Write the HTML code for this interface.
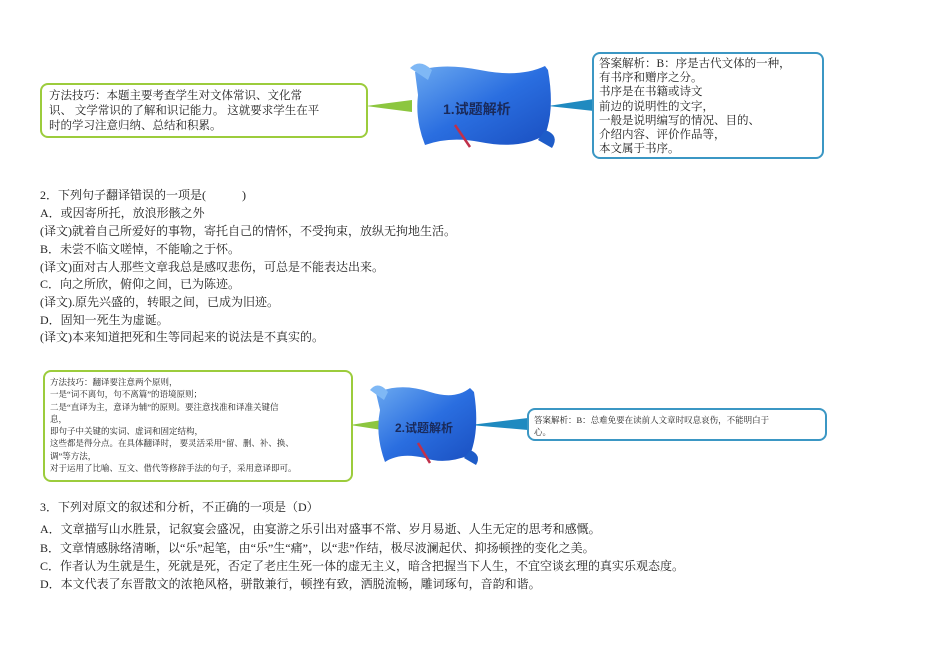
<!DOCTYPE html>
<html><head><meta charset="utf-8"><style>
body{margin:0;width:950px;height:672px;background:#fff;position:relative;overflow:hidden;font-family:"Liberation Serif","Noto Serif CJK SC",serif;color:#222}
.t{position:absolute;left:40px;font-size:12px;white-space:nowrap;line-height:14px}
.box{position:absolute;background:#fff;border-radius:8px;font-family:"Liberation Serif","Noto Serif CJK SC",serif;color:#222;box-sizing:border-box}
.g{border:2px solid #9ccc3c}
.b{border:2px solid #3b97c4}
</style></head><body>
<svg width="950" height="672" style="position:absolute;left:0;top:0">
<defs><linearGradient id="sg" x1="0" y1="0" x2="1" y2="1"><stop offset="0" stop-color="#6aa8f0"/><stop offset="0.5" stop-color="#2a6ee0"/><stop offset="1" stop-color="#1a4fc0"/></linearGradient></defs>
<polygon points="366,106 412,100 412,112" fill="#8cc63f"/>
<polygon points="548,106 594,99 594,111" fill="#1f8ac0"/>
<g>
<path d="M415,72 Q440,62 480,70 Q520,78 545,66 L548,70 Q555,110 545,135 Q520,150 480,142 Q450,136 425,145 Q415,120 418,95 Z" fill="url(#sg)"/>
<path d="M410,68 Q420,58 432,70 L428,80 Z" fill="#7fb8f5"/>
<path d="M545,130 Q560,135 552,148 L538,140 Z" fill="#1e5cc8"/>
<line x1="455" y1="125" x2="470" y2="147" stroke="#c0304a" stroke-width="2.5"/>
<text x="443" y="114" font-size="14" font-weight="bold" fill="#1a2a5a" font-family="Liberation Sans,Noto Sans CJK SC,sans-serif">1.试题解析</text>
</g>
<polygon points="350,425 388,419 388,431" fill="#8cc63f"/>
<polygon points="470,425 528,418 528,430" fill="#1f8ac0"/>
<g>
<path d="M376,393 Q400,382 430,392 Q455,400 470,388 L474,392 Q480,430 470,455 Q445,465 425,458 Q400,452 385,462 Q375,435 380,410 Z" fill="url(#sg)"/>
<path d="M370,390 Q378,380 388,392 L384,400 Z" fill="#7fb8f5"/>
<path d="M470,450 Q482,455 476,465 L464,458 Z" fill="#1e5cc8"/>
<line x1="418" y1="443" x2="430" y2="463" stroke="#c0304a" stroke-width="2.5"/>
<text x="395" y="432" font-size="12" font-weight="bold" fill="#1a2a5a" font-family="Liberation Sans,Noto Sans CJK SC,sans-serif">2.试题解析</text>
</g>
</svg>
<div class="box g" style="left:40px;top:83px;width:328px;height:55px;font-size:11.5px;line-height:15px;padding:4px 0 0 7px">方法技巧：本题主要考查学生对文体常识、文化常<br>识、 文学常识的了解和识记能力。 这就要求学生在平<br>时的学习注意归纳、总结和积累。</div>
<div class="box b" style="left:592px;top:52px;width:232px;height:107px;font-size:11.5px;line-height:14.2px;padding:3px 0 0 5px">答案解析：B：序是古代文体的一种，<br>有书序和赠序之分。<br>书序是在书籍或诗文<br>前边的说明性的文字，<br>一般是说明编写的情况、目的、<br>介绍内容、评价作品等，<br>本文属于书序。</div>
<div class="t" style="top:188px">2．下列句子翻译错误的一项是(　　　)</div>
<div class="t" style="top:206px">A．或因寄所托，放浪形骸之外</div>
<div class="t" style="top:224px">(译文)就着自己所爱好的事物，寄托自己的情怀，不受拘束，放纵无拘地生活。</div>
<div class="t" style="top:242px">B．未尝不临文嗟悼，不能喻之于怀。</div>
<div class="t" style="top:260px">(译文)面对古人那些文章我总是感叹悲伤，可总是不能表达出来。</div>
<div class="t" style="top:277px">C．向之所欣，俯仰之间，已为陈迹。</div>
<div class="t" style="top:295px">(译文).原先兴盛的，转眼之间，已成为旧迹。</div>
<div class="t" style="top:313px">D．固知一死生为虚诞。</div>
<div class="t" style="top:330px">(译文)本来知道把死和生等同起来的说法是不真实的。</div>
<div class="box g" style="left:43px;top:370px;width:310px;height:112px;font-size:8.5px;line-height:12.3px;padding:4px 0 0 5px">方法技巧：翻译要注意两个原则，<br>一是“词不离句，句不离篇”的语境原则；<br>二是“直译为主，意译为辅”的原则。要注意找准和译准关键信<br>息，<br>即句子中关键的实词、虚词和固定结构，<br>这些都是得分点。在具体翻译时， 要灵活采用“留、删、补、换、<br>调”等方法，<br>对于运用了比喻、互文、借代等修辞手法的句子，采用意译即可。</div>
<div class="box b" style="left:527px;top:408px;width:300px;height:33px;font-size:8.5px;line-height:12px;padding:4px 0 0 5px">答案解析：B：总难免要在读前人文章时叹息哀伤，不能明白于<br>心。</div>
<div class="t" style="top:500px">3．下列对原文的叙述和分析，不正确的一项是（D）</div>
<div class="t" style="top:522px">A．文章描写山水胜景，记叙宴会盛况，由宴游之乐引出对盛事不常、岁月易逝、人生无定的思考和感慨。</div>
<div class="t" style="top:541px">B．文章情感脉络清晰，以“乐”起笔，由“乐”生“痛”，以“悲”作结，极尽波澜起伏、抑扬顿挫的变化之美。</div>
<div class="t" style="top:559px">C．作者认为生就是生，死就是死，否定了老庄生死一体的虚无主义，暗含把握当下人生，不宜空谈玄理的真实乐观态度。</div>
<div class="t" style="top:577px">D．本文代表了东晋散文的浓艳风格，骈散兼行，顿挫有致，洒脱流畅，雕词琢句，音韵和谐。</div>
</body></html>
